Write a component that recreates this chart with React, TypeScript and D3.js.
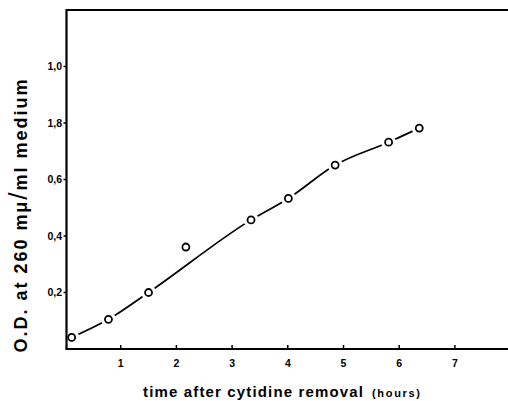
import React from "react";
import * as d3 from "d3";

const timeHours = [0.12, 0.78, 1.5, 2.17, 3.34, 4.01, 4.85, 5.81, 6.36];
const odValues = [0.041, 0.105, 0.2, 0.361, 0.457, 0.533, 0.651, 0.732, 0.782];
const onCurve = [true, true, true, false, true, true, true, true, true];
const xTicks = [1, 2, 3, 4, 5, 6, 7];
const yTicks = [0.2, 0.4, 0.6, 0.8, 1.0];
const yTickLabels = ["0,2", "0,4", "0,6", "1,8", "1,0"];

export default function App() {
  const W = 508, H = 401;
  const x = d3.scaleLinear().domain([0, 8]).range([65, 510.6]);
  const y = d3.scaleLinear().domain([0, 1.2]).range([349, 10]);
  const axX = 66.5;
  const pts = timeHours.map((t, i) => ({ t, v: odValues[i], c: onCurve[i] }));
  const curvePts = pts.filter((p) => p.c);
  const line = d3
    .line<{ t: number; v: number }>()
    .x((d) => x(d.t))
    .y((d) => y(d.v))
    .curve(d3.curveMonotoneX);
  const font = "'Liberation Sans', Arial, sans-serif";
  return (
    <svg
      width={W}
      height={H}
      style={{ position: "absolute", left: 0, top: 0, background: "#fff" }}
      fontFamily={font}
    >
      <rect width={W} height={H} fill="#fff" />
      {/* curve */}
      <path d={line(curvePts) || ""} fill="none" stroke="#000" strokeWidth={1.7} />
      {/* gaps around markers */}
      {pts.map((p, i) => (
        <circle key={"h" + i} cx={x(p.t)} cy={y(p.v)} r={7.5} fill="#fff" stroke="none" />
      ))}
      {pts.map((p, i) => (
        <circle
          key={"m" + i}
          cx={x(p.t)}
          cy={y(p.v)}
          r={3.5}
          fill="#fff"
          stroke="#000"
          strokeWidth={1.8}
        />
      ))}
      {/* frame */}
      <line x1={axX} y1={10} x2={W} y2={10} stroke="#000" strokeWidth={2} />
      <line x1={axX} y1={9} x2={axX} y2={y(0)} stroke="#000" strokeWidth={2.2} />
      <line x1={axX - 1} y1={y(0)} x2={W} y2={y(0)} stroke="#000" strokeWidth={2.2} />
      {yTicks.map((v, i) => (
        <g key={v}>
          <line x1={axX - 3} x2={axX} y1={y(v)} y2={y(v)} stroke="#000" strokeWidth={1.5} />
          <text x={62} y={y(v) + 3.5} textAnchor="end" fontSize={10.5} fontWeight="bold">
            {yTickLabels[i]}
          </text>
        </g>
      ))}
      {xTicks.map((t) => (
        <g key={t}>
          <line x1={x(t)} x2={x(t)} y1={y(0)} y2={y(0) - 4} stroke="#000" strokeWidth={1.5} />
          <text x={x(t)} y={367} textAnchor="middle" fontSize={10.5} fontWeight="bold">
            {t}
          </text>
        </g>
      ))}
      <text
        transform={`translate(27,216) rotate(-90)`}
        textAnchor="middle"
        fontSize={18}
        fontWeight="bold"
        textLength={273}
        lengthAdjust="spacing"
      >
        O.D. at 260 mμ<tspan fontSize={26} fontWeight="normal">/</tspan>ml medium
      </text>
      <text x={143} y={397} fontSize={15} fontWeight="bold" textLength={220} lengthAdjust="spacing">
        time after cytidine removal
      </text>
      <text x={372} y={397} fontSize={11} fontWeight="bold" textLength={48} lengthAdjust="spacing">
        (hours)
      </text>
    </svg>
  );
}
